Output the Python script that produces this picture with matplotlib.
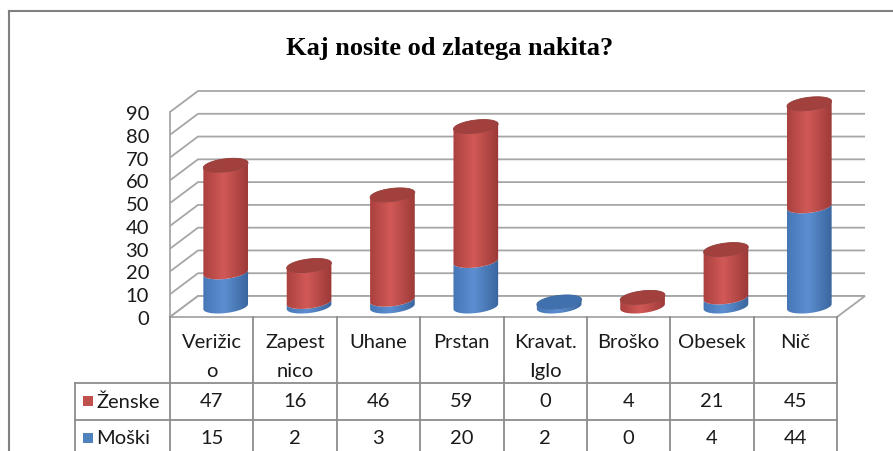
import numpy as np
import matplotlib
matplotlib.use("Agg")
import matplotlib.pyplot as plt
from matplotlib.path import Path
from matplotlib.patches import PathPatch, Polygon, Rectangle
from matplotlib.lines import Line2D

# ---------------- data ----------------
title = "Kaj nosite od zlatega nakita?"
categories = ["Verižic\no", "Zapest\nnico", "Uhane", "Prstan", "Kravat.\nIglo",
              "Broško", "Obesek", "Nič"]
series_names = ["Ženske", "Moški"]
zenske = [47, 16, 46, 59, 0, 4, 21, 45]
moski = [15, 2, 3, 20, 2, 0, 4, 44]
yticks = [0, 10, 20, 30, 40, 50, 60, 70, 80, 90]

# ---------------- styles ----------------
RED = dict(left=(0.66, 0.25, 0.24), mid=(0.82, 0.35, 0.34), right=(0.60, 0.22, 0.21),
           cap=(0.63, 0.25, 0.24), key="#c0504d")
BLUE = dict(left=(0.27, 0.46, 0.71), mid=(0.36, 0.56, 0.82), right=(0.22, 0.39, 0.61),
            cap=(0.25, 0.44, 0.68), key="#4f81bd")
GRID = "#a6a6a6"
TAB = "#8c8c8c"
FONT = "Lato"
FS = 14.5

W, H = 893, 452
fig = plt.figure(figsize=(W / 100, H / 100), dpi=100)
ax = fig.add_axes([0, 0, 1, 1])
ax.axis("off")
ax.set_autoscale_on(False)

n = len(categories)
FX0, FX1 = 170, 837          # front plane x extent (px)
FY0, FYT = 318, 113          # front plane y of 0 and of top tick (px from top)
YMAX = yticks[-1]
pxc = (FX1 - FX0) / n
pxv = (FY0 - FYT) / YMAX
xmin = -0.5 - FX0 / pxc
xmax = n - 0.5 + (W - FX1) / pxc
ymin = -(H - FY0) / pxv
ymax = YMAX + FYT / pxv
ax.set_xlim(xmin, xmax)
ax.set_ylim(ymin, ymax)


def py2y(py):
    return ymax - py / pxv


def px2x(px):
    return xmin + px / pxc


DDX, DDY = 28 / pxc, 21 / pxv     # depth of the 3D box

# ---- walls / gridlines ----
for v in yticks:
    ax.plot([-0.5, -0.5 + DDX, n - 0.5 + DDX], [v, v + DDY, v + DDY],
            color=GRID, lw=1.3, solid_capstyle="butt", zorder=1)
ax.plot([-0.5, -0.5], [0, YMAX], color=GRID, lw=1.3, zorder=1)
floor = Polygon([(-0.5, 0), (n - 0.5, 0), (n - 0.5 + DDX, DDY), (-0.5 + DDX, DDY)],
                closed=True, facecolor="white", edgecolor=GRID, lw=1.3, zorder=2)
ax.add_patch(floor)

# ---- y tick labels ----
for v in yticks:
    ax.text(px2x(149), v - 1.5 / pxv, str(v), ha="right", va="center",
            fontsize=FS, family=FONT, color="#1a1a1a")

# ---- cylinders ----
A_PX, B_PX, TH = 22.5, 6.5, np.deg2rad(7)
OX, OY = 0.5 * DDX, 0.5 * DDY


def ell(cx, cy, t):
    xp = A_PX * np.cos(t) * np.cos(TH) - B_PX * np.sin(t) * np.sin(TH)
    yp = A_PX * np.cos(t) * np.sin(TH) + B_PX * np.sin(t) * np.cos(TH)
    return cx + xp / pxc, cy + yp / pxv


def grad_img(st):
    u = np.linspace(0, 1, 64)
    img = np.zeros((2, 64, 3))
    for k in range(3):
        img[:, :, k] = np.interp(u, [0, 0.45, 1], [st["left"][k], st["mid"][k], st["right"][k]])
    return img


def body(cx, y0, y1, st, z):
    tb = np.linspace(np.pi, 2 * np.pi, 60)
    xb, yb = ell(cx, y0, tb)
    xt, yt = ell(cx, y1, tb[::-1])
    verts = np.column_stack([np.r_[xb, xt], np.r_[yb, yt]])
    path = Path(np.vstack([verts, verts[:1]]),
                [Path.MOVETO] + [Path.LINETO] * (len(verts) - 1) + [Path.CLOSEPOLY])
    patch = PathPatch(path, transform=ax.transData, facecolor="none", edgecolor="none")
    aw = A_PX * 1.05 / pxc
    bh = (B_PX + A_PX * np.sin(TH)) * 1.2 / pxv
    im = ax.imshow(grad_img(st), extent=[cx - aw, cx + aw, y0 - bh, y1 + bh],
                   aspect="auto", interpolation="bilinear", zorder=z, origin="lower")
    im.set_clip_path(patch)


def cap(cx, y, st, z):
    t = np.linspace(0, 2 * np.pi, 100)
    xs, ys = ell(cx, y, t)
    ax.add_patch(Polygon(np.column_stack([xs, ys]), closed=True,
                         facecolor=st["cap"], edgecolor=tuple(c * 0.92 for c in st["cap"]),
                         lw=0.6, zorder=z))


for i in range(n):
    cx = i + OX
    base = OY
    z = 5 + i
    top_style = None
    for val, st in ((moski[i], BLUE), (zenske[i], RED)):
        if val > 0:
            body(cx, base, base + val, st, z)
            base += val
            top_style = st
    if top_style is not None:
        cap(cx, base, top_style, z + 0.5)

ax.set_xlim(xmin, xmax)
ax.set_ylim(ymin, ymax)

# ---- data table ----
yl0, yl1, yl2, ybot = py2y(FY0), py2y(384), py2y(421), py2y(H + 5)
xl = px2x(75)
for b in np.arange(n + 1) - 0.5:
    ax.plot([b, b], [yl0, ybot], color=TAB, lw=1.3, zorder=3)
ax.plot([xl, xl], [yl1, ybot], color=TAB, lw=1.3, zorder=3)
for yy in (yl1, yl2):
    ax.plot([xl, n - 0.5], [yy, yy], color=TAB, lw=1.3, zorder=3)

for i, lab in enumerate(categories):
    for k, line in enumerate(lab.split("\n")):
        ax.text(i, py2y(343 + 29 * k), line, ha="center", va="center",
                fontsize=FS, family=FONT, color="#1a1a1a")

rows = [(series_names[0], zenske, RED["key"], 402),
        (series_names[1], moski, BLUE["key"], 439)]
for name, vals, col, pyc in rows:
    kx0 = px2x(83)
    ax.add_patch(Rectangle((kx0, py2y(pyc + 5)), 10 / pxc, 10 / pxv,
                           facecolor=col, edgecolor="none", zorder=4))
    ax.text(px2x(96), py2y(pyc), name, ha="left", va="center",
            fontsize=FS, family=FONT, color="#1a1a1a")
    for i, v in enumerate(vals):
        ax.text(i, py2y(pyc), str(v), ha="center", va="center",
                fontsize=FS, family=FONT, color="#1a1a1a")

# ---- title ----
fig.text(450 / W, 1 - 49 / H, title, ha="center", va="center",
         fontsize=19, fontweight="bold", family="Liberation Serif", color="black")

# ---- outer frame ----
fig.add_artist(Line2D([9 / W, 9 / W], [0, 1 - 12 / H], transform=fig.transFigure,
                      color="#808080", lw=1.5))
fig.add_artist(Line2D([9 / W, 1], [1 - 12 / H, 1 - 12 / H], transform=fig.transFigure,
                      color="#808080", lw=1.5))

fig.savefig("out.png", dpi=100)
